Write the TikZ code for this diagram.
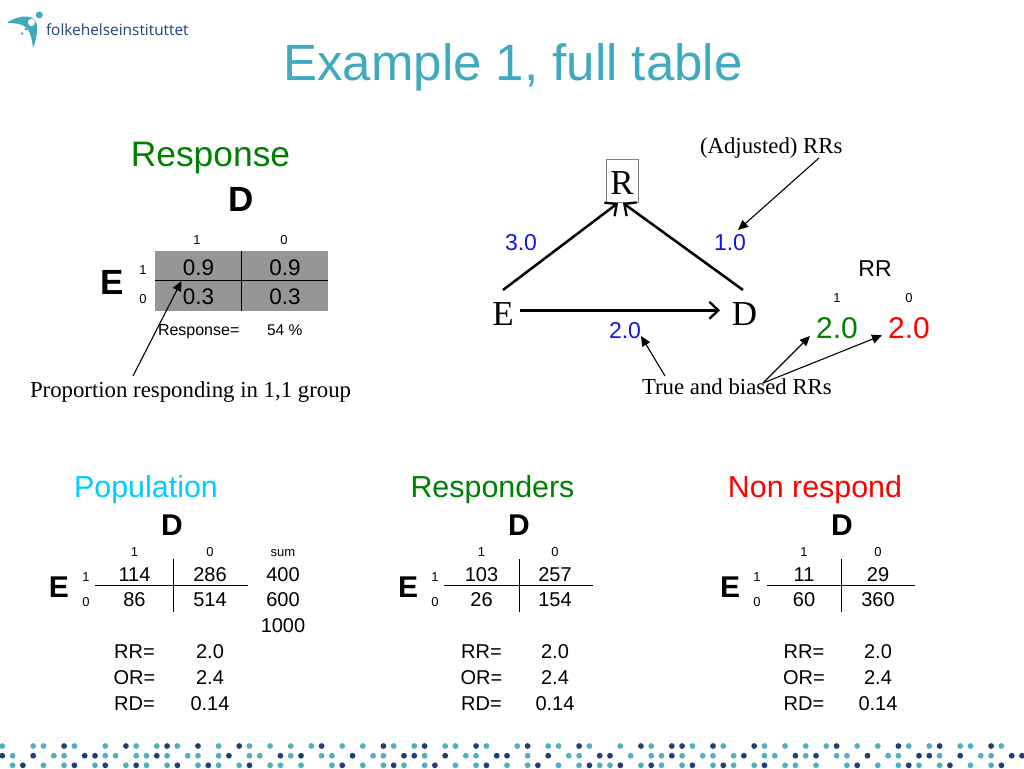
\documentclass[tikz,border=0pt]{standalone}
\usepackage{fontspec}
\setmainfont{Liberation Sans}
\newfontfamily\serifface{Liberation Serif}
\newfontfamily\logoface{Open Sans}
\usetikzlibrary{arrows.meta}
\definecolor{teal}{HTML}{3FAABF}
\definecolor{navy}{HTML}{21407A}
\definecolor{dotlight}{HTML}{4FB0BF}
\definecolor{dotdark}{HTML}{1F3F78}
\definecolor{popcyan}{HTML}{00CCFF}
\definecolor{okgreen}{HTML}{008000}
\definecolor{lblue}{HTML}{1414E0}
\definecolor{cellgray}{HTML}{969696}
\newcommand{\fs}[1]{\fontsize{#1}{#1}\selectfont}
\tikzset{
  txt/.style={inner sep=0pt,outer sep=0pt,anchor=base},
  txtl/.style={inner sep=0pt,outer sep=0pt,anchor=base west},
  small/.style={txt,font=\fs{13}},
  cell/.style={txt,font=\fs{20}},
  bigcell/.style={txt,font=\fs{22.5}},
  boldbig/.style={txt,font=\fs{35}\bfseries},
  boldlow/.style={txt,font=\fs{30}\bfseries},
  sertxt/.style={txtl,font=\serifface\fs{22.8}},
  dagtxt/.style={txt,font=\serifface\fs{35}},
  effect/.style={txt,font=\fs{23},text=lblue},
  rrval/.style={txt,font=\fs{30}},
  tabletitle/.style={txt,font=\fs{30.4}},
  tablerule/.style={draw=black,line width=1pt},
  dagarrow/.style={draw=black,line width=2.5pt,-{Straight Barb[length=9pt,width=17pt,line width=2.3pt]}},
  notearrow/.style={draw=black,line width=1.1pt,-{Triangle[length=10pt,width=9pt]}},
  dotl/.style={fill=dotlight},
  dotd/.style={fill=dotdark},
}
\begin{document}
\begin{tikzpicture}[x=1pt,y=-1pt]
\useasboundingbox (0,0) rectangle (1024,768);
% logo
\fill[teal] (8,22) .. controls (13,19) and (20,16) .. (27,16.5) .. controls (34,17) and (37.5,22) .. (37.3,28) .. controls (37,35) and (35.5,42) .. (33,48) .. controls (32,41) and (31,33) .. (27,28) .. controls (22,23.5) and (14,23) .. (8,23) -- cycle;
\fill[white] (31.5,22.5) circle[radius=3.6pt];
\fill[teal] (39.3,15) circle[radius=3.5pt];
\fill[teal] (26,29) circle[radius=1.6pt];
\fill[teal] (22,33.5) circle[radius=1.3pt];
\node[txtl,font=\logoface\fs{15.4},text=navy] (logo) at (46,35.5) {folkehelseinstituttet};
% title
\node[txt,font=\fs{51},text=teal] (title) at (513,80) {Example 1, full table};
% response table
\node[txt,font=\fs{35.4},text=okgreen] (resp) at (210.5,166) {Response};
\node[boldbig] (respD) at (241,211) {D};
\fill[cellgray] (155,250.7) rectangle (327.7,310.7);
\draw[tablerule] (155,280.7) -- (327.7,280.7);
\draw[tablerule] (241,250.7) -- (241,310.7);
\node[small] (rh1) at (197,244) {1};
\node[small] (rh0) at (284,244) {0};
\node[small] (rl1) at (143,274) {1};
\node[small] (rl0) at (143,303) {0};
\node[boldbig] (respE) at (112,294) {E};
\node[bigcell] (c11) at (198.5,275) {0.9};
\node[bigcell] (c10) at (285,275) {0.9};
\node[bigcell] (c01) at (198.5,304) {0.3};
\node[bigcell] (c00) at (285,304) {0.3};
\node[txtl,font=\fs{16}] (respeq) at (158,335) {Response=};
\node[txtl,font=\fs{15.5}] (resppct) at (267,335) {54 \%};
\node[sertxt] (prop) at (30,397) {Proportion responding in 1,1 group};
\draw[notearrow] ([shift={(103,-21)}]prop.base west) -- ([shift={(-17,-23)}]c01.base);
% DAG
\node[dagtxt,draw=gray,inner sep=0pt,text height=35pt,text depth=8pt,text width=32.6pt,align=center] (R) at (622,194) {R};
\node[dagtxt] (E) at (503,325) {E};
\node[dagtxt] (D) at (744.5,325) {D};
\draw[dagarrow] ([shift={(0,-35)}]E.base) -- ([shift={(-4,9)}]R.base);
\draw[dagarrow] ([shift={(-1.5,-35)}]D.base) -- ([shift={(1,9)}]R.base);
\draw[dagarrow] ([shift={(17,-14.7)}]E.base) -- ([shift={(-24.5,-14.7)}]D.base);
\node[effect] (e30) at (521,250) {3.0};
\node[effect] (e10) at (730,250) {1.0};
\node[effect] (e20) at (625,338) {2.0};
\node[sertxt] (adj) at (700,153) {(Adjusted) RRs};
\draw[notearrow] ([shift={(119,5)}]adj.base west) -- ([shift={(8,-20)}]e10.base);
\node[sertxt] (truerr) at (642,394) {True and biased RRs};
\node[txt,font=\fs{23}] (rrhead) at (875,276) {RR};
\node[small] (rr1) at (837,302) {1};
\node[small] (rr0) at (909,302) {0};
\node[rrval,text=okgreen] (rrg) at (837,338) {2.0};
\node[rrval,text=red] (rrr) at (909,338) {2.0};
\draw[notearrow] ([shift={(23,-18)}]truerr.base west) -- ([shift={(16,-2)}]e20.base);
\draw[notearrow] ([shift={(121,-11)}]truerr.base west) -- ([shift={(-27,-2)}]rrg.base);
\draw[notearrow] ([shift={(121,-11)}]truerr.base west) -- ([shift={(-27,-2.7)}]rrr.base);
% lower tables
\node[tabletitle,text=popcyan] (poptitle) at (146,497) {Population};
\node[tabletitle,text=okgreen] (restitle) at (492.5,497) {Responders};
\node[tabletitle,text=red] (nontitle) at (815,497) {Non respond};
\node[small] (popsum) at (283,556) {sum};
\node[cell] (pop400) at (283,581) {400};
\node[cell] (pop600) at (283,606) {600};
\node[cell] (pop1000) at (283,632) {1000};
\foreach \n/\Ex/\Lx/\Ca/\Vx/\Cb/\Hl/\Hr/\Dx/\a/\b/\c/\d in {
  pop/59/86/134.5/173/210/95/248/172/114/286/86/514,
  res/408/435/481.5/519/555/444/593/519/103/257/26/154,
  non/730/757/804/841/878/767/915/842/11/29/60/360}{
  \node[boldlow] (\n D) at (\Dx,535) {D};
  \node[boldlow] (\n E) at (\Ex,597) {E};
  \node[small] (\n h1) at (\Ca,556) {1};
  \node[small] (\n h0) at (\Cb,556) {0};
  \node[small] (\n l1) at (\Lx,581) {1};
  \node[small] (\n l0) at (\Lx,606) {0};
  \node[cell] (\n a) at (\Ca,581) {\a};
  \node[cell] (\n b) at (\Cb,581) {\b};
  \node[cell] (\n c) at (\Ca,606) {\c};
  \node[cell] (\n d) at (\Cb,606) {\d};
  \draw[tablerule] (\Hl,585) -- (\Hr,585);
  \draw[tablerule] (\Vx,559) -- (\Vx,612);
  \node[cell] (\n rr) at (\Ca,658) {RR=};
  \node[cell] (\n or) at (\Ca,684) {OR=};
  \node[cell] (\n rd) at (\Ca,710) {RD=};
  \node[cell] (\n rrv) at (\Cb,658) {2.0};
  \node[cell] (\n orv) at (\Cb,684) {2.4};
  \node[cell] (\n rdv) at (\Cb,710) {0.14};
}
% footer dots
\foreach \k in {0,3,4,7,10,13,15,17,21,24,26,28,30,33,35,38,40,43,44,47,50,53,54,57,60,63,67,70,74,76,78,80,83,85,88,90,93,94,97}
  \fill[dotl] (2.3+10.3*\k,746) circle[radius=2.9pt];
\foreach \k in {6,12,16,19,23,31,37,41,46,51,56,62,65,66,69,73,81,87,91,96}
  \fill[dotd] (2.3+10.3*\k,746) circle[radius=2.9pt];
\foreach \k in {1,5,6,10,11,13,14,16,18,19,21,24,25,28,31,32,36,37,41,45,46,51,55,56,61,63,64,66,68,69,71,74,75,78,81,82,86,87,91,95,96}
  \fill[dotl] (2.3+10.3*\k,755.7) circle[radius=2.9pt];
\foreach \k in {0,3,8,9,15,22,27,29,34,39,40,43,48,49,53,58,59,65,72,77,79,84,89,90,93,98,99}
  \fill[dotd] (2.3+10.3*\k,755.7) circle[radius=2.9pt];
\foreach \k in {1,4,6,9,12,14,16,19,21,23,26,27,29,32,35,37,39,41,44,46,49,51,54,56,58,59,62,64,66,69,71,73,76,77,79,82,85,87,89,91,94,96}
  \fill[dotl] (2.3+10.3*\k,765.3) circle[radius=2.9pt];
\foreach \k in {2,7,10,13,17,20,24,33,38,42,47,52,57,60,63,67,70,74,83,88,92,97}
  \fill[dotd] (2.3+10.3*\k,765.3) circle[radius=2.9pt];
\end{tikzpicture}
\end{document}
